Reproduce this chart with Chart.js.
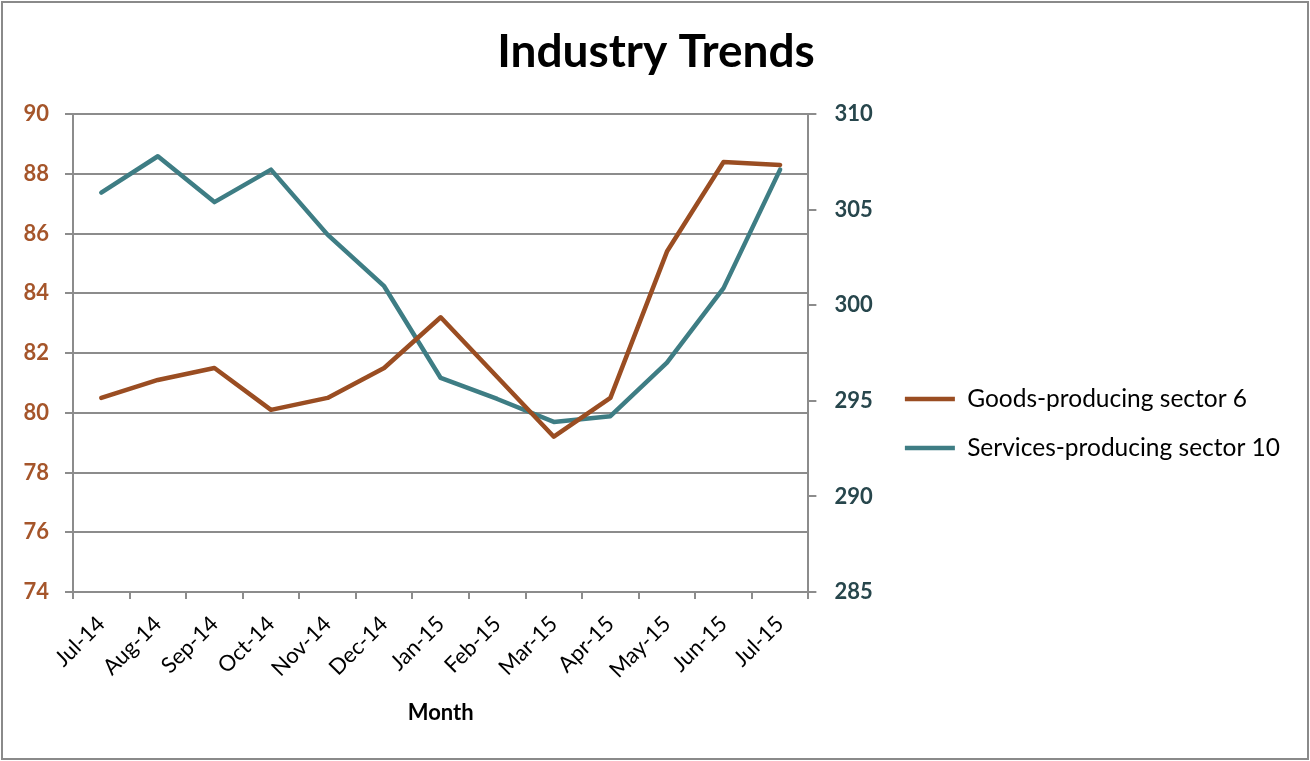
<!DOCTYPE html>
<html>
<head>
<meta charset="utf-8">
<title>Industry Trends</title>
<script src="https://cdn.jsdelivr.net/npm/chart.js@4.4.0/dist/chart.umd.min.js"></script>
<style>
  html, body { margin: 0; padding: 0; background: #fff; }
  #wrap { position: relative; width: 1310px; height: 761px; }
</style>
</head>
<body>
<div id="wrap"><canvas id="trends" width="1310" height="761"></canvas></div>
<script>
// monthly values, left axis = goods, right axis = services
const months = ['Jul-14','Aug-14','Sep-14','Oct-14','Nov-14','Dec-14','Jan-15','Feb-15','Mar-15','Apr-15','May-15','Jun-15','Jul-15'];
const goodsSector = [80.5, 81.1, 81.5, 80.1, 80.5, 81.5, 83.2, 81.2, 79.2, 80.5, 85.4, 88.4, 88.3];
const servicesSector = [305.9, 307.8, 305.4, 307.1, 303.7, 301.0, 296.2, 295.1, 293.9, 294.2, 297.0, 300.9, 307.1];
const goodsTicks = [74, 76, 78, 80, 82, 84, 86, 88, 90];
const servicesTicks = [285, 290, 295, 300, 305, 310];

const FONT = 'Lato, "Open Sans", sans-serif';
const GRID = '#8c8c8c';

// thin grey frame round the whole chart
const frame = {
  id: 'frame',
  afterDraw(chart){
    const c = chart.ctx;
    c.save();
    c.strokeStyle = '#8a8a8a';
    c.lineWidth = 2;
    c.strokeRect(2, 2, chart.width - 4, chart.height - 4);
    c.restore();
  }
};

// legend block sits a bit lower, title centred on the full canvas
const nudge = {
  id: 'nudge',
  afterLayout(chart){
    if (chart.legend) {
      chart.legend.top += 43;
      chart.legend.bottom += 43;
    }
    if (chart.titleBlock) {
      chart.titleBlock.left += 11;
      chart.titleBlock.right += 11;
    }
  }
};

new Chart(document.getElementById('trends').getContext('2d'), {
  type: 'line',
  data: {
    labels: months,
    datasets: [{
      label: 'Goods-producing sector 6',
      data: goodsSector,
      yAxisID: 'y',
      borderColor: '#9a4d22',
      backgroundColor: '#9a4d22',
      borderWidth: 4.5,
      pointRadius: 0,
      tension: 0,
      borderCapStyle: 'round',
      borderJoinStyle: 'round',
      pointStyle: 'line'
    },{
      label: 'Services-producing sector 10',
      data: servicesSector,
      yAxisID: 'y1',
      borderColor: '#3e7d84',
      backgroundColor: '#3e7d84',
      borderWidth: 4.5,
      pointRadius: 0,
      tension: 0,
      borderCapStyle: 'round',
      borderJoinStyle: 'round',
      pointStyle: 'line'
    }]
  },
  options: {
    responsive: false,
    animation: false,
    layout: { padding: { left: 0, right: 20, top: 0, bottom: 0 } },
    plugins: {
      title: {
        display: true,
        text: 'Industry Trends',
        color: '#000',
        font: { family: FONT, size: 46, weight: 'bold' },
        padding: { top: 25, bottom: 34 }
      },
      legend: {
        position: 'right',
        maxWidth: 480,
        labels: {
          usePointStyle: true,
          pointStyleWidth: 50,
          color: '#000',
          font: { family: FONT, size: 24.5 },
          padding: 24.5
        }
      },
      tooltip: { enabled: false }
    },
    scales: {
      x: {
        offset: true,
        grid: { offset: true, drawOnChartArea: false, color: GRID, lineWidth: 2, tickLength: 7 },
        border: { color: GRID, width: 2 },
        ticks: {
          color: '#000',
          font: { family: FONT, size: 22 },
          minRotation: 45, maxRotation: 45,
          padding: 12
        },
        title: {
          display: true,
          text: 'Month',
          color: '#000',
          font: { family: FONT, size: 22, weight: 'bold' },
          padding: { top: 0, bottom: 35 }
        },
        afterFit(scale){ scale.height = 169; }
      },
      y: {
        position: 'left',
        min: 74, max: 90,
        afterBuildTicks(scale){ scale.ticks = goodsTicks.map(v => ({ value: v })); },
        grid: { color: GRID, lineWidth: 2, tickLength: 8 },
        border: { color: GRID, width: 2 },
        ticks: {
          color: '#a5552a',
          font: { family: FONT, size: 22, weight: 'bold' },
          padding: 16
        },
        afterFit(scale){ scale.width = 73; }
      },
      y1: {
        position: 'right',
        min: 285, max: 310,
        afterBuildTicks(scale){ scale.ticks = servicesTicks.map(v => ({ value: v })); },
        grid: { drawOnChartArea: false, color: GRID, lineWidth: 2, tickLength: 8 },
        border: { color: GRID, width: 2 },
        ticks: {
          color: '#27464c',
          font: { family: FONT, size: 22, weight: 'bold' },
          padding: 18
        },
        afterFit(scale){ scale.width = 72; }
      }
    }
  },
  plugins: [frame, nudge]
});
</script>
</body>
</html>
